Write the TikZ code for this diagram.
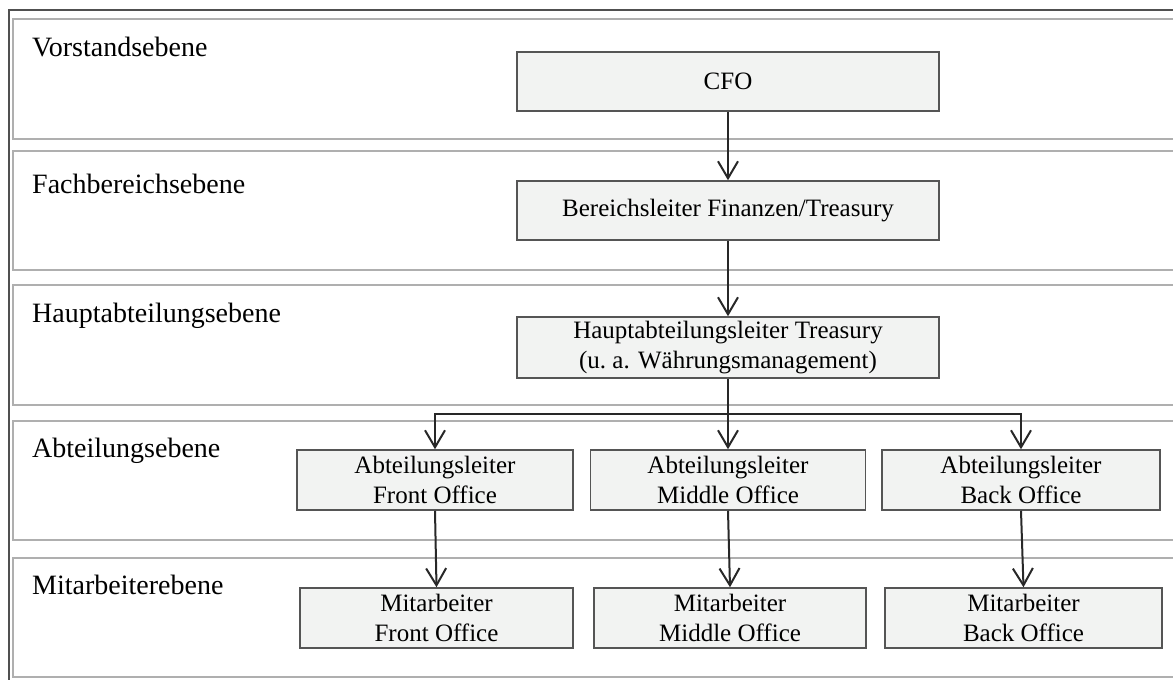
\documentclass[tikz,border=0pt]{standalone}
\usepackage{fontspec}
\setmainfont{Liberation Serif}
\usetikzlibrary{arrows.meta}
\definecolor{boxfill}{RGB}{242,243,242}
\definecolor{boxline}{RGB}{85,85,85}
\definecolor{bandline}{RGB}{175,175,175}
\definecolor{frameline}{RGB}{80,80,80}
\definecolor{arrowline}{RGB}{40,40,40}
\tikzset{
  unitbox/.style={draw=boxline, line width=1.5pt, fill=boxfill, align=center,
    inner sep=0pt, font=\fontsize{25}{30}\selectfont},
  levellabel/.style={anchor=base west, inner sep=0pt, font=\fontsize{28}{32}\selectfont},
  band/.style={draw=bandline, line width=1.8pt},
  link/.style={draw=arrowline, line width=2pt, -{Straight Barb[length=17pt,width=20pt,line width=2pt]}},
  plainlink/.style={draw=arrowline, line width=2pt}
}
\begin{document}
\begin{tikzpicture}[x=1pt,y=-1pt]
\useasboundingbox (0,0) rectangle (1173,680);
\clip (0,0) rectangle (1173,680);
% outer frame
\draw[frameline, line width=1.5pt] (9,10) rectangle (1200,700);
% level bands
\draw[band] (13,19) rectangle (1200,139);
\draw[band] (13,151) rectangle (1200,270);
\draw[band] (13,285) rectangle (1200,405);
\draw[band] (13,421) rectangle (1200,540);
\draw[band] (13,558) rectangle (1200,677);
% level names
\node[levellabel] (l1) at (32,56) {Vorstandsebene};
\node[levellabel] (l2) at (32,193) {Fachbereichsebene};
\node[levellabel] (l3) at (32,322) {Hauptabteilungsebene};
\node[levellabel] (l4) at (32,457) {Abteilungsebene};
\node[levellabel] (l5) at (32,594) {Mitarbeiterebene};
% units
\node[unitbox, minimum width=422pt, minimum height=59pt] (cfo) at (728,81.5) {CFO};
\node[unitbox, minimum width=422pt, minimum height=59pt] (bl) at (728,210.5) {Bereichsleiter Finanzen/Treasury};
\node[unitbox, minimum width=422pt, minimum height=61pt] (hal) at (728,347.5) {Hauptabteilungsleiter Treasury\\(u.\ a. Währungsmanagement)};
\node[unitbox, minimum width=276pt, minimum height=60pt] (alfo) at (435,480) {Abteilungsleiter\\Front Office};
\node[unitbox, minimum width=275pt, minimum height=60pt] (almo) at (728,480) {Abteilungsleiter\\Middle Office};
\node[unitbox, minimum width=278pt, minimum height=60pt] (albo) at (1021,480) {Abteilungsleiter\\Back Office};
\node[unitbox, minimum width=273pt, minimum height=60pt] (mfo) at (436.5,618) {Mitarbeiter\\Front Office};
\node[unitbox, minimum width=272pt, minimum height=60pt] (mmo) at (730,618) {Mitarbeiter\\Middle Office};
\node[unitbox, minimum width=277pt, minimum height=60pt] (mbo) at (1023.5,618) {Mitarbeiter\\Back Office};
% reporting lines
\coordinate (split) at (728,414);
\draw[link] (cfo.south) -- (bl.north);
\draw[link] (bl.south) -- (hal.north);
\draw[plainlink] (hal.south) -- (split);
\draw[link] (split) -- (almo.north);
\draw[link] (split) -| (alfo.north);
\draw[link] (split) -| (albo.north);
\draw[link] (alfo.south) -- (mfo.north);
\draw[link] (almo.south) -- (mmo.north);
\draw[link] (albo.south) -- (mbo.north);
\end{tikzpicture}
\end{document}
